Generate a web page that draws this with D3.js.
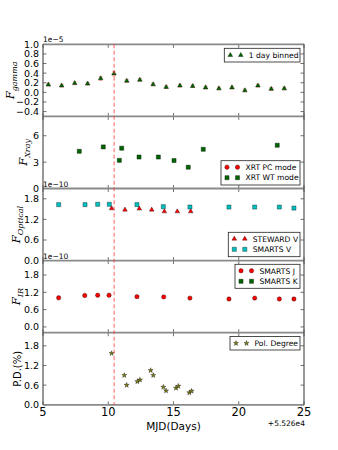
<!DOCTYPE html>
<html><head><meta charset="utf-8">
<script src="https://cdn.jsdelivr.net/npm/d3@7/dist/d3.min.js"></script>
<style>body{margin:0;background:#fff}svg{display:block;font-family:"DejaVu Sans",sans-serif}</style>
</head><body><svg id="c" width="338" height="450"></svg>
<script>
// ---------- data ----------
const xTicks = [5, 10, 15, 20, 25];
const flareMJD = 10.45;

const gammaX = [5.41,6.43,7.43,8.42,9.42,10.44,11.42,12.42,13.44,14.44,15.49,16.47,17.46,18.48,19.48,20.47,21.47,22.49,23.49];
const gammaY = [0.16,0.14,0.19,0.18,0.29,0.39,0.24,0.26,0.165,0.11,0.14,0.13,0.10,0.08,0.10,0.04,0.14,0.07,0.08];
const gammaErr = [0.03,0.03,0.03,0.03,0.04,0.05,0.03,0.03,0.03,0.03,0.03,0.03,0.03,0.03,0.03,0.03,0.03,0.03,0.03];

const xrtPcX = [];
const xrtPcY = [];
const xrtWtX = [7.78,9.62,10.85,11.03,12.36,13.84,15.04,16.13,17.28,22.95];
const xrtWtY = [4.23,4.73,3.2,4.58,3.58,3.58,3.18,2.42,4.46,4.92];

const stewardVX = [10.26,11.28,12.38,13.33,14.30,15.29,16.32];
const stewardVY = [1.52,1.48,1.51,1.48,1.43,1.43,1.43];
const smartsVX = [6.20,8.22,9.19,10.08,12.2,14.22,16.26,19.25,21.22,23.11,24.23];
const smartsVY = [1.63,1.63,1.64,1.64,1.63,1.57,1.56,1.56,1.56,1.56,1.53];

const smartsJX = [6.20,8.20,9.19,10.06,12.2,14.25,16.26,19.25,21.22,23.11,24.23];
const smartsJY = [1.01,1.09,1.10,1.10,1.05,1.04,1.00,0.97,1.00,0.97,0.97];
const smartsKX = [];
const smartsKY = [];

const polX = [10.26,11.23,11.41,12.23,12.43,13.25,13.45,14.22,14.43,15.19,15.37,16.21,16.39];
const polY = [1.57,0.90,0.60,0.71,0.76,1.05,0.90,0.54,0.43,0.51,0.57,0.37,0.42];

const yTicks1 = [-0.4,-0.2,0.0,0.2,0.4,0.6,0.8,1.0];
const yTicks2 = [0,3,6];
const yTicks3 = [0.0,0.6,1.2,1.8];
const yTicks4 = [0.0,0.6,1.2,1.8];
const yTicks5 = [0.0,0.6,1.2,1.8];

// ---------- layout ----------
const svg = d3.select("#c");
const L = 43, R = 304, T0 = 44.3, PH = 72.1;
const x = d3.scaleLinear().domain([5, 25]).range([L, R]);
const C = {green:"#006400", red:"#ff0000", cyan:"#00bfbf", star:"#7d7d12"};

const panels = [
  {dom:[-0.5,1.0], ticks:yTicks1, fmt:d3.format(".1f"), label:["F","gamma"], lx:14, offset:"1e\u22125",
   legend:{x0:224.3,y0:48.3,w:75.7,h:13.7,items:[{t:"1 day binned",sym:"tri",c:C.green}]},
   series:[{xs:gammaX,ys:gammaY,err:gammaErr,sym:"tri",c:C.green}]},
  {dom:[0,8.2], ticks:yTicks2, fmt:d3.format("d"), label:["F","Xray"], lx:27,
   legend:{x0:221,y0:160.7,w:79,h:24.3,items:[{t:"XRT PC mode",sym:"circ",c:C.red},{t:"XRT WT mode",sym:"sq",c:C.green}]},
   series:[{xs:xrtPcX,ys:xrtPcY,sym:"circ",c:C.red},{xs:xrtWtX,ys:xrtWtY,sym:"sq",c:C.green}]},
  {dom:[0,2.1], ticks:yTicks3, fmt:d3.format(".1f"), label:["F","Optical"], lx:20, offset:"1e\u221210",
   legend:{x0:228.3,y0:232.3,w:71.7,h:24.4,items:[{t:"STEWARD V",sym:"tri",c:C.red},{t:"SMARTS V",sym:"sq",c:C.cyan}]},
   series:[{xs:smartsVX,ys:smartsVY,sym:"sq",c:C.cyan},{xs:stewardVX,ys:stewardVY,sym:"tri",c:C.red}]},
  {dom:[-0.2,2.3], ticks:yTicks4, fmt:d3.format(".1f"), label:["F","IR"], lx:20, offset:"1e\u221210",
   legend:{x0:235,y0:264.3,w:65,h:24,items:[{t:"SMARTS J",sym:"circ",c:C.red},{t:"SMARTS K",sym:"sq",c:C.green}]},
   series:[{xs:smartsKX,ys:smartsKY,sym:"sq",c:C.green},{xs:smartsJX,ys:smartsJY,sym:"circ",c:C.red}]},
  {dom:[0,2.2], ticks:yTicks5, fmt:d3.format(".1f"), label:null, plain:"P.D.(%)", lx:21,
   legend:{x0:230,y0:336.5,w:70,h:13.5,items:[{t:"Pol. Degree",sym:"star",c:C.star}]},
   series:[{xs:polX,ys:polY,sym:"star",c:C.star}]}
];

const symGen = {
  tri: d3.symbol().type(d3.symbolTriangle).size(9.5),
  sq: d3.symbol().type(d3.symbolSquare).size(17),
  circ: d3.symbol().type(d3.symbolCircle).size(15),
  star: d3.symbol().type(d3.symbolStar).size(8)
};

function drawSym(g, sym, c, px, py){
  g.append("path").attr("d", symGen[sym]())
   .attr("transform", `translate(${px},${py})`)
   .attr("fill", c).attr("stroke", "#000").attr("stroke-width", 0.35);
}

panels.forEach((p, i) => {
  const top = T0 + i*PH, bot = top + PH;
  const y = d3.scaleLinear().domain(p.dom).range([bot, top]);
  const g = svg.append("g");

  p.ticks.forEach(t => {
    g.append("text").attr("x", L-4).attr("y", y(t)).attr("dy","0.36em")
     .attr("text-anchor","end").attr("font-size", 9.5).attr("fill","#000")
     .text(p.fmt(t));
    g.append("line").attr("x1",L).attr("x2",L+3.5).attr("y1",y(t)).attr("y2",y(t)).attr("stroke","#333").attr("stroke-width",0.7);
    g.append("line").attr("x1",R).attr("x2",R-3.5).attr("y1",y(t)).attr("y2",y(t)).attr("stroke","#333").attr("stroke-width",0.7);
  });
  xTicks.forEach(t => {
    g.append("line").attr("x1",x(t)).attr("x2",x(t)).attr("y1",top).attr("y2",top+3.5).attr("stroke","#333").attr("stroke-width",0.7);
    g.append("line").attr("x1",x(t)).attr("x2",x(t)).attr("y1",bot).attr("y2",bot-3.5).attr("stroke","#333").attr("stroke-width",0.7);
  });

  const cy = (top+bot)/2;
  const lab = g.append("text").attr("transform",`translate(${p.lx},${cy}) rotate(-90)`)
     .attr("text-anchor","middle").attr("fill","#000");
  if (p.label){
    lab.append("tspan").attr("font-size",11.5).attr("font-style","italic").attr("font-family","DejaVu Serif, serif").text(p.label[0]);
    lab.append("tspan").attr("font-size",8).attr("font-style","italic").attr("font-family","DejaVu Serif, serif").attr("dy",3).text(p.label[1]);
  } else {
    lab.attr("font-size",10).text(p.plain);
  }

  if (p.offset){
    g.append("text").attr("x",L).attr("y",top-2).attr("font-size",7.5).attr("fill","#000").text(p.offset);
  }

  p.series.forEach(s => {
    if (s.err){
      s.xs.forEach((xv,k)=>{
        g.append("line").attr("x1",x(xv)).attr("x2",x(xv))
         .attr("y1",y(s.ys[k]-s.err[k])).attr("y2",y(s.ys[k]+s.err[k]))
         .attr("stroke","#ff4040").attr("stroke-opacity",0.6).attr("stroke-width",1);
        [s.ys[k]-s.err[k], s.ys[k]+s.err[k]].forEach(yy=>{
          g.append("line").attr("x1",x(xv)-2).attr("x2",x(xv)+2).attr("y1",y(yy)).attr("y2",y(yy))
           .attr("stroke","#ff4040").attr("stroke-opacity",0.5).attr("stroke-width",0.8);
        });
      });
    }
    s.xs.forEach((xv,k)=> drawSym(g, s.sym, s.c, x(xv), y(s.ys[k])));
  });

  const lg = p.legend;
  g.append("rect").attr("x",lg.x0).attr("y",lg.y0).attr("width",lg.w).attr("height",lg.h)
   .attr("fill","#fff").attr("stroke","#222").attr("stroke-width",0.8);
  const rowH = lg.items.length>1 ? 10.5 : 0;
  lg.items.forEach((it,k)=>{
    const yy = lg.y0 + (lg.items.length>1 ? 6.5 + k*rowH : lg.h/2);
    drawSym(g, it.sym, it.c, lg.x0+6, yy);
    drawSym(g, it.sym, it.c, lg.x0+16.5, yy);
    g.append("text").attr("x",lg.x0+24.5).attr("y",yy).attr("dy","0.36em")
     .attr("font-size",7.6).attr("fill","#000").text(it.t);
  });
});

const B = T0 + 5*PH;
for (let i=0;i<=5;i++){
  svg.append("line").attr("x1",L).attr("x2",R).attr("y1",T0+i*PH).attr("y2",T0+i*PH)
    .attr("stroke","#8a8a8a").attr("stroke-width",1.8);
}
svg.append("line").attr("x1",L).attr("x2",L).attr("y1",T0).attr("y2",B).attr("stroke","#444").attr("stroke-width",1.1);
svg.append("line").attr("x1",R).attr("x2",R).attr("y1",T0).attr("y2",B).attr("stroke","#444").attr("stroke-width",1.1);

svg.append("line").attr("x1",x(flareMJD)).attr("x2",x(flareMJD)).attr("y1",T0).attr("y2",B)
  .attr("stroke","#ff3030").attr("stroke-opacity",0.7).attr("stroke-width",1.1).attr("stroke-dasharray","4,2.5");

xTicks.forEach(t=>{
  svg.append("text").attr("x",x(t)).attr("y",416).attr("text-anchor","middle")
    .attr("font-size",11.5).attr("fill","#000").text(t);
});
svg.append("text").attr("x",(L+R)/2).attr("y",429.5).attr("text-anchor","middle")
  .attr("font-size",10.5).attr("fill","#000").text("MJD(Days)");
svg.append("text").attr("x",R+1).attr("y",425.5).attr("text-anchor","end")
  .attr("font-size",7.5).attr("fill","#000").text("+5.526e4");
</script></body></html>
